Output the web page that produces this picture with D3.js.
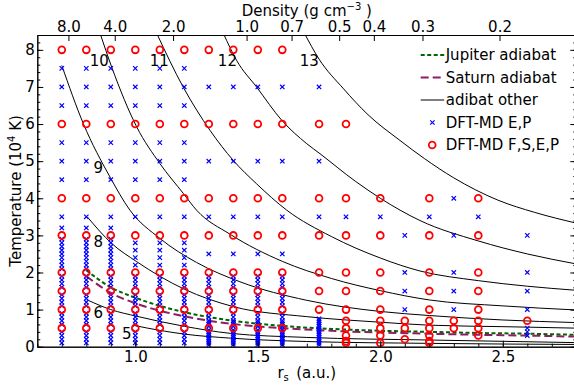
<!DOCTYPE html>
<html>
<head>
<meta charset="utf-8">
<script src="https://cdn.jsdelivr.net/npm/d3@7"></script>
<style>
  html, body { margin: 0; padding: 0; background: #fff; }
  svg { display: block; font-family: "DejaVu Sans", sans-serif; }
</style>
</head>
<body>
<svg id="chart" width="574" height="387"></svg>
<script>
// ---------------- data ----------------
const rsDomain = [0.6, 2.8];
const tDomain = [0, 8.4];
const rsTickValues = [1.0, 1.5, 2.0, 2.5];
const tTickValues = [0, 1, 2, 3, 4, 5, 6, 7, 8];
const densityTicks = [8.0, 4.0, 2.0, 1.0, 0.7, 0.5, 0.4, 0.3, 0.2];
const rhoAtUnitRs = 3.075; // g cm^-3 of the H-He mixture at r_s = 1

// planetary adiabats (r_s, T in 10^4 K)
const jupiterRs = [0.8, 0.9, 1.0, 1.1, 1.2, 1.3, 1.4, 1.6, 1.8, 2.0, 2.2, 2.4, 2.6, 2.8];
const jupiterT  = [2.06, 1.6, 1.32, 1.1, 0.93, 0.80, 0.70, 0.56, 0.48, 0.43, 0.40, 0.37, 0.35, 0.32];
const saturnRs  = [0.8, 0.9, 1.0, 1.1, 1.2, 1.3, 1.4, 1.6, 1.8, 2.0, 2.2, 2.4, 2.6, 2.8];
const saturnT   = [1.9, 1.45, 1.17, 0.97, 0.82, 0.70, 0.61, 0.50, 0.43, 0.38, 0.35, 0.32, 0.30, 0.27];

// other adiabats, labelled by entropy
const adiabatEntropy = [5, 6, 8, 9, 10, 11, 12, 13];
const adiabatRs = [
  [0.99, 1.1, 1.2, 1.39, 1.7, 2.2, 2.8],
  [0.804, 0.9, 1.006, 1.2, 1.387, 1.7, 2.2, 2.8],
  [0.804, 0.904, 1.006, 1.2, 1.4, 1.7, 2.0, 2.2, 2.5, 2.8],
  [0.7, 0.788, 0.897, 0.978, 1.1, 1.25, 1.427, 1.7, 2.0, 2.2, 2.5, 2.8],
  [0.856, 0.904, 1.006, 1.101, 1.196, 1.25, 1.387, 1.6, 1.8, 2.0, 2.2, 2.5, 2.8],
  [1.087, 1.196, 1.305, 1.40, 1.495, 1.618, 1.8, 2.0, 2.162, 2.4, 2.6, 2.8],
  [1.359, 1.414, 1.496, 1.598, 1.70, 1.754, 1.9, 2.0, 2.162, 2.4, 2.6, 2.8],
  [1.69, 1.75, 1.85, 1.95, 2.08, 2.18, 2.3, 2.48, 2.63, 2.8]
];
const adiabatT = [
  [0.58, 0.44, 0.34, 0.23, 0.14, 0.09, 0.06],
  [1.26, 1.0, 0.82, 0.55, 0.36, 0.25, 0.18, 0.11],
  [3.5, 2.78, 2.29, 1.55, 1.08, 0.81, 0.66, 0.58, 0.54, 0.5],
  [7.58, 6.01, 4.57, 3.68, 2.92, 2.27, 1.75, 1.25, 0.95, 0.84, 0.72, 0.65],
  [8.45, 7.53, 5.92, 4.93, 4.13, 3.68, 3.03, 2.3, 1.84, 1.51, 1.26, 1.1, 0.99],
  [8.45, 6.99, 5.83, 5.02, 4.39, 3.68, 2.97, 2.39, 2.04, 1.78, 1.63, 1.52],
  [8.45, 7.71, 6.99, 6.10, 5.47, 5.20, 4.45, 4.0, 3.40, 2.85, 2.5, 2.23],
  [8.45, 7.75, 6.95, 6.25, 5.56, 5.07, 4.55, 3.95, 3.62, 3.33]
];
const adiabatLabelRs = [0.965, 0.849, 0.849, 0.849, 0.853, 1.098, 1.376, 1.71];
const adiabatLabelT  = [0.36, 0.91, 2.82, 4.84, 7.71, 7.71, 7.71, 7.71];

// simulation grid: r_s columns and the temperatures run in each
const gridRs = [0.7, 0.8, 0.9, 1.0, 1.1, 1.2, 1.3, 1.4, 1.5, 1.6, 1.75, 1.86, 2.0, 2.1, 2.2, 2.3, 2.4, 2.6];

const fsepMain = [0.5, 1, 1.5, 2, 3, 4, 6, 8];
const fsepT = [
  fsepMain, fsepMain, fsepMain, fsepMain, fsepMain,
  fsepMain, fsepMain, fsepMain, fsepMain, fsepMain,
  [1, 1.5, 2, 3, 4, 6],
  [0.1, 0.15, 0.3, 0.5, 0.7, 1, 1.5, 2, 3, 4, 6],
  [0.1, 0.3, 0.5, 0.7, 1, 1.5, 2, 3, 4],
  [0.2, 0.5, 0.7],
  [0.1, 0.15, 0.3, 0.5, 0.7, 1, 1.5, 2, 3, 4],
  [0.5, 0.7],
  [0.3, 0.5, 0.7, 1, 1.5, 2, 3, 4],
  [0.7]
];

const epHot = [2.1, 2.2, 2.3, 2.4, 2.5, 2.6, 2.7, 2.8, 2.9, 3.2, 3.5, 4.5, 5, 5.5, 6.5, 7, 7.5];
const epCold = [0.1, 0.2, 0.3, 0.4, 0.6, 0.7, 0.8, 0.9, 1.1, 1.2, 1.3, 1.4, 1.6, 1.7, 1.8, 1.9];
const epMid = [2.2, 2.4, 2.6, 2.8, 3.5, 4.5, 5, 5.5, 6.5, 7, 7.5];
const epFine = [0.05, 0.1, 0.15, 0.2, 0.25, 0.3, 0.35, 0.4, 0.45, 0.55, 0.6, 0.65, 0.7,
                0.8, 0.9, 1.1, 1.2, 1.3, 1.4, 1.6, 1.7, 1.8, 1.9, 2.5, 3.5, 5, 7];
const epT = [
  epCold.concat(epHot), epCold.concat(epHot), epCold.concat(epHot),
  epCold.concat(epMid), epCold.concat(epMid), epCold.concat(epMid),
  epFine, epFine, epFine, epFine,
  [0.05, 0.1, 0.15, 0.2, 0.25, 0.3, 0.35, 0.4, 0.45, 0.5, 0.55, 0.6, 0.65, 0.7, 0.75, 3.5, 5, 7],
  [3.5],
  [3.5],
  [1, 1.5, 2, 3],
  [3.5],
  [1, 1.5, 2, 3, 4],
  [3.5],
  [0.3, 0.4, 0.5, 1, 1.5, 2, 3]
];

const legendLabels = ["Jupiter adiabat", "Saturn adiabat", "adibat other", "DFT-MD E,P", "DFT-MD F,S,E,P"];

// ---------------- layout ----------------
const plot = { left: 37.3, right: 576.3, top: 35, bottom: 346.7 };
const fontSize = 15;
const colors = { jupiter: "#006400", saturn: "#8c1e64", ep: "#0000ff", fsep: "#ff0000" };

const svg = d3.select("#chart");
const x = d3.scaleLinear().domain(rsDomain).range([plot.left, plot.right]);
const y = d3.scaleLinear().domain(tDomain).range([plot.bottom, plot.top]);

svg.append("defs").append("clipPath").attr("id", "plotClip")
  .append("rect")
  .attr("x", plot.left).attr("y", plot.top)
  .attr("width", plot.right - plot.left).attr("height", plot.bottom - plot.top);

const inner = svg.append("g").attr("clip-path", "url(#plotClip)");
const line = d3.line().x(d => x(d[0])).y(d => y(d[1])).curve(d3.curveMonotoneX);

// black adiabats
adiabatRs.forEach((rs, i) => {
  inner.append("path")
    .attr("d", line(rs.map((r, j) => [r, adiabatT[i][j]])))
    .attr("fill", "none").attr("stroke", "#000").attr("stroke-width", 1);
});

// Jupiter and Saturn adiabats
inner.append("path")
  .attr("d", line(jupiterRs.map((r, j) => [r, jupiterT[j]])))
  .attr("fill", "none").attr("stroke", colors.jupiter).attr("stroke-width", 2)
  .attr("stroke-dasharray", "4,2.5");
inner.append("path")
  .attr("d", line(saturnRs.map((r, j) => [r, saturnT[j]])))
  .attr("fill", "none").attr("stroke", colors.saturn).attr("stroke-width", 2)
  .attr("stroke-dasharray", "8,4");

// simulation points
const xMark = "M-2.2,-2.2L2.2,2.2M-2.2,2.2L2.2,-2.2";
const epPts = [];
gridRs.forEach((r, i) => epT[i].forEach(t => epPts.push([r, t])));
const fsepPts = [];
gridRs.forEach((r, i) => fsepT[i].forEach(t => fsepPts.push([r, t])));

inner.append("g").selectAll("path").data(epPts).join("path")
  .attr("transform", d => `translate(${x(d[0])},${y(d[1])})`)
  .attr("d", xMark).attr("stroke", colors.ep).attr("stroke-width", 1.2).attr("fill", "none");

inner.append("g").selectAll("circle").data(fsepPts).join("circle")
  .attr("cx", d => x(d[0])).attr("cy", d => y(d[1])).attr("r", 3.4)
  .attr("fill", "none").attr("stroke", colors.fsep).attr("stroke-width", 1.8);

// entropy labels
svg.append("g").selectAll("text").data(adiabatEntropy).join("text")
  .attr("x", (d, i) => x(adiabatLabelRs[i])).attr("y", (d, i) => y(adiabatLabelT[i]))
  .attr("dy", "0.36em").attr("text-anchor", "middle")
  .attr("font-size", fontSize).attr("fill", "#000")
  .text(d => d);

// ---------------- axes ----------------
function styleAxis(g) {
  g.selectAll("path.domain").attr("stroke", "#000").attr("stroke-width", 1);
  g.selectAll(".tick line").attr("stroke", "#000").attr("stroke-width", 1);
  g.selectAll(".tick text").attr("font-size", fontSize).attr("fill", "#000")
    .attr("font-family", "DejaVu Sans");
}

// bottom: r_s
const xMinor = d3.range(0.6, 2.801, 0.1);
svg.append("g").attr("transform", `translate(0,${plot.bottom})`)
  .call(d3.axisBottom(x).tickValues(xMinor).tickSize(-3).tickSizeOuter(0).tickFormat(""))
  .call(styleAxis);
svg.append("g").attr("transform", `translate(0,${plot.bottom})`)
  .call(d3.axisBottom(x).tickValues(rsTickValues).tickSize(-6).tickSizeOuter(0)
    .tickPadding(5).tickFormat(d3.format(".1f")))
  .call(styleAxis);

// top: density
const densityRs = densityTicks.map(rho => Math.cbrt(rhoAtUnitRs / rho));
svg.append("g").attr("transform", `translate(0,${plot.top})`)
  .call(d3.axisTop(x).tickValues(densityRs).tickSize(-6).tickSizeOuter(0)
    .tickPadding(3).tickFormat((d, i) => d3.format(".1f")(densityTicks[i])))
  .call(styleAxis);

// left / right: temperature
const yMinor = d3.range(0, 8.401, 0.2);
svg.append("g").attr("transform", `translate(${plot.left},0)`)
  .call(d3.axisLeft(y).tickValues(yMinor).tickSize(-3).tickSizeOuter(0).tickFormat(""))
  .call(styleAxis);
svg.append("g").attr("transform", `translate(${plot.left},0)`)
  .call(d3.axisLeft(y).tickValues(tTickValues).tickSize(-6).tickSizeOuter(0)
    .tickPadding(2.5).tickFormat(d3.format("d")))
  .call(styleAxis);
svg.append("g").attr("transform", `translate(${plot.right},0)`)
  .call(d3.axisRight(y).tickValues(yMinor).tickSize(-3).tickSizeOuter(0).tickFormat(""))
  .call(styleAxis);
svg.append("g").attr("transform", `translate(${plot.right},0)`)
  .call(d3.axisRight(y).tickValues(tTickValues).tickSize(-6).tickSizeOuter(0).tickFormat(""))
  .call(styleAxis);

// axis titles
const topTitle = svg.append("text")
  .attr("x", (plot.left + plot.right) / 2).attr("y", 15.5)
  .attr("text-anchor", "middle").attr("font-size", fontSize);
topTitle.append("tspan").text("Density (g cm");
topTitle.append("tspan").attr("dy", -6).attr("font-size", 10).text("\u22123");
topTitle.append("tspan").attr("dy", 6).text(" )");

const xTitle = svg.append("text")
  .attr("x", (plot.left + plot.right) / 2).attr("y", 378)
  .attr("text-anchor", "middle").attr("font-size", fontSize);
xTitle.append("tspan").text("r");
xTitle.append("tspan").attr("dy", 3).attr("font-size", 10).text("s");
xTitle.append("tspan").attr("dy", -3).text("\u2002(a.u.)");

const yTitle = svg.append("text")
  .attr("transform", `translate(20.5,${(plot.top + plot.bottom) / 2}) rotate(-90)`)
  .attr("text-anchor", "middle").attr("font-size", fontSize);
yTitle.append("tspan").text("Temperature (10");
yTitle.append("tspan").attr("dy", -6).attr("font-size", 10).text("4");
yTitle.append("tspan").attr("dy", 6).text(" K)");

// ---------------- legend ----------------
const legend = svg.append("g").attr("transform", "translate(420.7,55)");
const rowGap = 22.5;
legendLabels.forEach((label, i) => {
  const g = legend.append("g").attr("transform", `translate(0,${i * rowGap})`);
  if (i === 0) g.append("line").attr("x1", 0).attr("x2", 23.5).attr("stroke", colors.jupiter)
    .attr("stroke-width", 2).attr("stroke-dasharray", "4,2.5");
  if (i === 1) g.append("line").attr("x1", 0).attr("x2", 23.5).attr("stroke", colors.saturn)
    .attr("stroke-width", 2).attr("stroke-dasharray", "8,4");
  if (i === 2) g.append("line").attr("x1", 0).attr("x2", 23.5).attr("stroke", "#000").attr("stroke-width", 1);
  if (i === 3) g.append("path").attr("transform", "translate(11.7,0)").attr("d", xMark)
    .attr("stroke", colors.ep).attr("stroke-width", 1.2).attr("fill", "none");
  if (i === 4) g.append("circle").attr("cx", 11.5).attr("r", 3.4)
    .attr("fill", "none").attr("stroke", colors.fsep).attr("stroke-width", 1.8);
  g.append("text").attr("x", 25).attr("dy", "0.36em").attr("font-size", fontSize).text(label);
});
</script>
</body>
</html>
